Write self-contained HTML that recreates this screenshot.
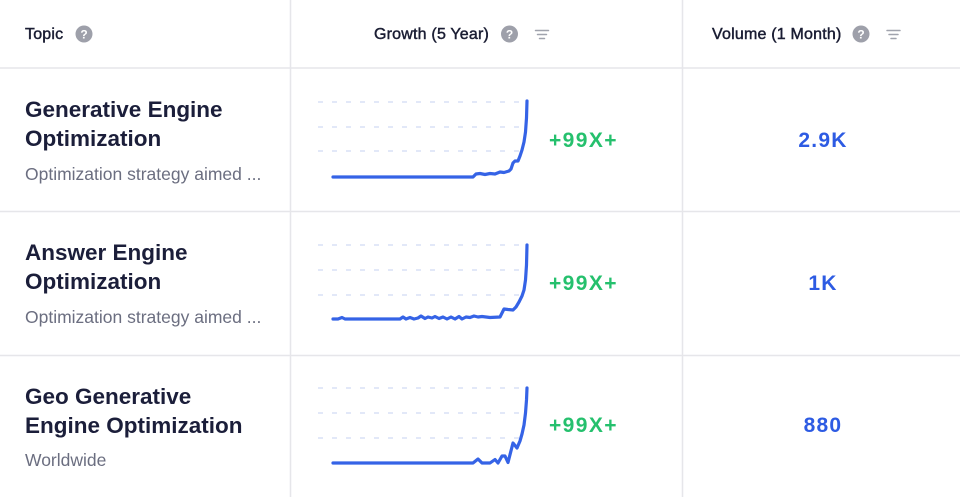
<!DOCTYPE html>
<html><head><meta charset="utf-8"><style>
html,body{margin:0;padding:0;background:#fff;}
body{width:960px;height:497px;position:relative;overflow:hidden;font-family:"Liberation Sans",sans-serif;}
.t{position:absolute;white-space:nowrap;}
.hd{font-size:16px;line-height:20px;font-weight:normal;color:#1a1d33;top:25px;-webkit-text-stroke:0.45px #1a1d33;letter-spacing:0.2px;}
.ti{font-size:22.5px;line-height:29px;font-weight:bold;color:#1b1e3a;left:25px;}
.sub{font-size:17.5px;line-height:22px;color:#6b6e80;left:25px;}
.gr{font-size:21px;line-height:26px;font-weight:bold;color:#25c06d;left:549px;letter-spacing:1.4px;}
.vo{font-size:21px;line-height:26px;font-weight:bold;color:#2d5be3;left:684px;width:278px;text-align:center;letter-spacing:1.2px;}
</style></head><body>
<svg width="960" height="497" style="position:absolute;left:0;top:0" xmlns="http://www.w3.org/2000/svg">
<g stroke="#e6e6ea" stroke-width="1.5">
<line x1="0" y1="68" x2="960" y2="68"/>
<line x1="0" y1="211.5" x2="960" y2="211.5"/>
<line x1="0" y1="355.5" x2="960" y2="355.5"/>
<line x1="290.5" y1="0" x2="290.5" y2="497"/>
<line x1="682.5" y1="0" x2="682.5" y2="497"/>
</g>
<g stroke="#d8e0f6" stroke-width="1.4" stroke-dasharray="5 9">
<line x1="318" y1="102" x2="524" y2="102"/><line x1="318" y1="127" x2="524" y2="127"/><line x1="318" y1="151" x2="524" y2="151"/>
<line x1="318" y1="245" x2="524" y2="245"/><line x1="318" y1="270" x2="524" y2="270"/><line x1="318" y1="295" x2="524" y2="295"/>
<line x1="318" y1="388" x2="524" y2="388"/><line x1="318" y1="413" x2="524" y2="413"/><line x1="318" y1="438" x2="524" y2="438"/>
</g>
<g fill="none" stroke="#3563e6" stroke-width="3.2" stroke-linejoin="round" stroke-linecap="round">
<path d="M333,177 L473,177 L476,174 L480,173.5 L485,174.5 L490,173.5 L495,174 L500,172 L504,172.5 L509,171 L511,169 L513,163 L515,161 L518,161 L520,156 L522,150 L524,142 L525.5,132 L526.5,118 L527,101"/>
<path d="M333,319 L338,319 L342,317.5 L345,319 L400,319 L403,317 L406,319 L410,317.5 L414,319 L418,318 L421,316 L425,318.5 L428,317 L432,318 L435,316.5 L439,318.5 L443,317 L447,319 L451,317 L455,319 L459,316.5 L462,319 L466,317 L470,317.5 L474,316 L478,317 L482,316.5 L486,317 L490,317.5 L500,317 L504,309 L508,309.5 L513,310 L516,307 L519,302 L522,296 L524,290 L525.5,280 L526.5,265 L527,245"/>
<path d="M333,463 L473,463 L478,459 L482,463 L490,463 L495,459.5 L498,463 L502,456 L505,456 L508,462.5 L513,443 L517,448 L520,441 L522,434 L524,425 L525.5,413 L526.5,400 L527,388"/>
</g>
<g fill="#9ea0aa">
<circle cx="84" cy="34" r="8.5"/><circle cx="509.5" cy="34" r="8.5"/><circle cx="861" cy="34" r="8.5"/>
</g>
<g fill="#fff" font-family="Liberation Sans, sans-serif" font-size="12" font-weight="bold" text-anchor="middle">
<text x="84" y="38.5">?</text><text x="509.5" y="38.5">?</text><text x="861" y="38.5">?</text>
</g>
<g stroke="#a0a3ad" stroke-width="1.5" stroke-linecap="round">
<line x1="535.5" y1="30.5" x2="548.5" y2="30.5"/><line x1="537.5" y1="34.5" x2="546.5" y2="34.5"/><line x1="539.5" y1="38.5" x2="544.5" y2="38.5"/>
<line x1="887" y1="30.5" x2="900" y2="30.5"/><line x1="889" y1="34.5" x2="898" y2="34.5"/><line x1="891" y1="38.5" x2="896" y2="38.5"/>
</g>
</svg>

<div class="t hd" style="left:25px">Topic</div>
<div class="t hd" style="left:374px">Growth (5 Year)</div>
<div class="t hd" style="left:712px">Volume (1 Month)</div>

<div class="t ti" style="top:95px">Generative Engine<br>Optimization</div>
<div class="t sub" style="top:163px">Optimization strategy aimed ...</div>
<div class="t gr" style="top:128px">+99X+</div>
<div class="t vo" style="top:128px">2.9K</div>

<div class="t ti" style="top:238px">Answer Engine<br>Optimization</div>
<div class="t sub" style="top:306px">Optimization strategy aimed ...</div>
<div class="t gr" style="top:271px">+99X+</div>
<div class="t vo" style="top:271px">1K</div>

<div class="t ti" style="top:382px">Geo Generative<br>Engine Optimization</div>
<div class="t sub" style="top:449px">Worldwide</div>
<div class="t gr" style="top:413px">+99X+</div>
<div class="t vo" style="top:413px">880</div>
</body></html>
